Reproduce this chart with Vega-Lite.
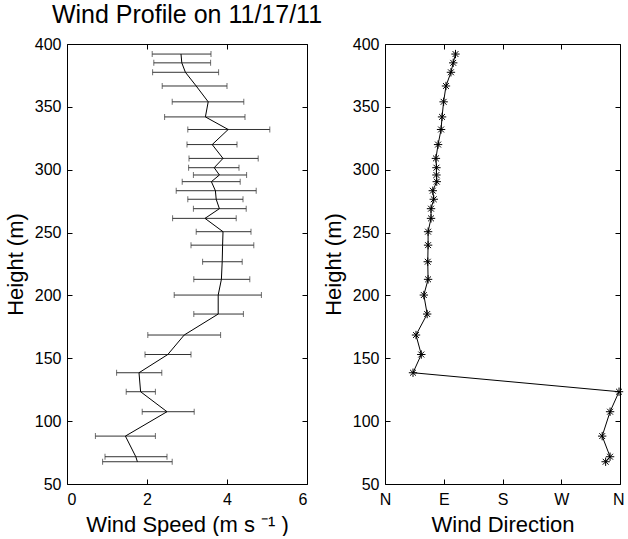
{
  "$schema": "https://vega.github.io/schema/vega-lite/v6.json",
  "background": "white",
  "padding": {"left": 3, "top": 2, "right": 0, "bottom": 0},
  "bounds": "flush",
  "spacing": 78,
  "config": {
    "font": "Liberation Sans",
    "view": {"stroke": "black", "strokeWidth": 1},
    "axis": {
      "grid": false,
      "domain": false,
      "ticks": true,
      "tickColor": "black",
      "tickSize": -5,
      "labelColor": "black",
      "labelFontSize": 16,
      "titleColor": "black",
      "titleFontSize": 22,
      "titleFontWeight": "normal"
    },
    "axisLeft": {"labelPadding": 11, "titlePadding": 7},
    "axisRight": {"labelPadding": 11},
    "axisBottom": {"labelPadding": 12, "titlePadding": 7},
    "axisTop": {"labelPadding": 12},
    "title": {"color": "black", "fontWeight": "normal", "fontSize": 25}
  },
  "datasets": {
    "w": [
      {"h": 392, "speed": 2.85, "lo": 2.13, "hi": 3.6, "dir": 108},
      {"h": 385, "speed": 2.87, "lo": 2.17, "hi": 3.59, "dir": 104.5},
      {"h": 377.5, "speed": 2.96, "lo": 2.14, "hi": 3.79, "dir": 101},
      {"h": 366.6, "speed": 3.23, "lo": 2.38, "hi": 4.0, "dir": 93.4},
      {"h": 354, "speed": 3.53, "lo": 2.63, "hi": 4.42, "dir": 89.8},
      {"h": 342, "speed": 3.46, "lo": 2.44, "hi": 4.45, "dir": 87.4},
      {"h": 332, "speed": 4.03, "lo": 3.02, "hi": 5.07, "dir": 85.9},
      {"h": 320, "speed": 3.63, "lo": 3.0, "hi": 4.25, "dir": 81.3},
      {"h": 309, "speed": 3.9, "lo": 3.05, "hi": 4.78, "dir": 78},
      {"h": 301.6, "speed": 3.68, "lo": 3.04, "hi": 4.3, "dir": 78.8},
      {"h": 295.8, "speed": 3.81, "lo": 3.16, "hi": 4.49, "dir": 78.8},
      {"h": 290.5, "speed": 3.61, "lo": 2.88, "hi": 4.33, "dir": 79.3},
      {"h": 283.3, "speed": 3.71, "lo": 2.73, "hi": 4.73, "dir": 73.2},
      {"h": 276.5, "speed": 3.73, "lo": 3.02, "hi": 4.4, "dir": 74.7},
      {"h": 269, "speed": 3.81, "lo": 3.16, "hi": 4.48, "dir": 70.5},
      {"h": 261.3, "speed": 3.45, "lo": 2.64, "hi": 4.23, "dir": 70.5},
      {"h": 250.7, "speed": 3.9, "lo": 3.23, "hi": 4.6, "dir": 66},
      {"h": 240, "speed": 3.89, "lo": 3.1, "hi": 4.67, "dir": 66},
      {"h": 226.8, "speed": 3.88, "lo": 3.39, "hi": 4.38, "dir": 65.5},
      {"h": 212.8, "speed": 3.86, "lo": 3.17, "hi": 4.57, "dir": 66},
      {"h": 200.3, "speed": 3.78, "lo": 2.68, "hi": 4.86, "dir": 59.5},
      {"h": 185.2, "speed": 3.78, "lo": 3.17, "hi": 4.41, "dir": 64.6},
      {"h": 168.5, "speed": 2.93, "lo": 2.02, "hi": 3.84, "dir": 47.5},
      {"h": 153, "speed": 2.52, "lo": 1.95, "hi": 3.1, "dir": 55.6},
      {"h": 138.5, "speed": 1.8, "lo": 1.24, "hi": 2.37, "dir": 42.9},
      {"h": 123.4, "speed": 1.84, "lo": 1.48, "hi": 2.21, "dir": 358.5},
      {"h": 107.5, "speed": 2.5, "lo": 1.88, "hi": 3.18, "dir": 344.8},
      {"h": 88.1, "speed": 1.46, "lo": 0.71, "hi": 2.21, "dir": 332.7},
      {"h": 71.7, "speed": 1.72, "lo": 0.95, "hi": 2.5, "dir": 344.8},
      {"h": 67.7, "speed": 1.76, "lo": 0.89, "hi": 2.63, "dir": 338}
    ]
  },
  "hconcat": [
    {
      "width": 240,
      "height": 440,
      "title": {"text": "Wind Profile on 11/17/11", "anchor": "middle", "offset": 8},
      "data": {"name": "w"},
      "layer": [
        {
          "mark": {"type": "rule", "color": "#333", "strokeWidth": 1},
          "encoding": {
            "y": {"field": "h", "type": "quantitative", "scale": {"domain": [50, 400], "nice": false, "zero": false},
                  "axis": {"orient": "left", "values": [50, 100, 150, 200, 250, 300, 350, 400], "title": "Height (m)"}},
            "x": {"field": "lo", "type": "quantitative", "scale": {"domain": [0, 6], "nice": false},
                  "axis": {"orient": "bottom", "values": [0, 2, 4, 6], "title": "Wind Speed (m s ⁻¹ )"}},
            "x2": {"field": "hi"}
          }
        },
        {
          "mark": {"type": "tick", "orient": "vertical", "size": 6, "thickness": 1, "color": "#333"},
          "encoding": {
            "y": {"field": "h", "type": "quantitative", "axis": null},
            "x": {"field": "lo", "type": "quantitative", "axis": null}
          }
        },
        {
          "mark": {"type": "tick", "orient": "vertical", "size": 6, "thickness": 1, "color": "#333"},
          "encoding": {
            "y": {"field": "h", "type": "quantitative", "axis": null},
            "x": {"field": "hi", "type": "quantitative", "axis": null}
          }
        },
        {
          "mark": {"type": "line", "color": "black", "strokeWidth": 1},
          "encoding": {
            "y": {"field": "h", "type": "quantitative", "axis": null},
            "x": {"field": "speed", "type": "quantitative", "axis": null},
            "order": {"field": "h", "type": "quantitative"}
          }
        },
        {
          "mark": {"type": "point", "opacity": 0},
          "encoding": {
            "y": {"field": "h", "type": "quantitative",
                  "axis": {"orient": "right", "values": [50, 100, 150, 200, 250, 300, 350, 400], "labels": false, "title": null}},
            "x": {"field": "speed", "type": "quantitative",
                  "axis": {"orient": "top", "values": [0, 2, 4, 6], "labels": false, "title": null}}
          }
        }
      ],
      "resolve": {"axis": {"x": "independent", "y": "independent"}}
    },
    {
      "width": 235,
      "height": 440,
      "data": {"name": "w"},
      "layer": [
        {
          "mark": {"type": "line", "color": "black", "strokeWidth": 1},
          "encoding": {
            "y": {"field": "h", "type": "quantitative", "scale": {"domain": [50, 400], "nice": false, "zero": false},
                  "axis": {"orient": "left", "values": [50, 100, 150, 200, 250, 300, 350, 400], "title": "Height (m)"}},
            "x": {"field": "dir", "type": "quantitative", "scale": {"domain": [0, 360], "nice": false},
                  "axis": {"orient": "bottom", "values": [0, 90, 180, 270, 360],
                           "labelExpr": "['N','E','S','W','N'][round(datum.value/90)]",
                           "labelAlign": {"condition": {"test": "datum.value >= 360", "value": "right"}, "value": "center"},
                           "labelOffset": {"condition": {"test": "datum.value >= 360", "value": 4}, "value": 0},
                           "title": "Wind Direction"}},
            "order": {"field": "h", "type": "quantitative"}
          }
        },
        {
          "mark": {"type": "point", "shape": "M0,-1L0,1M-1,0L1,0M-0.7,-0.7L0.7,0.7M-0.7,0.7L0.7,-0.7", "filled": false, "stroke": "black", "strokeWidth": 1, "size": 70, "opacity": 1},
          "encoding": {
            "y": {"field": "h", "type": "quantitative",
                  "axis": {"orient": "right", "values": [50, 100, 150, 200, 250, 300, 350, 400], "labels": false, "title": null}},
            "x": {"field": "dir", "type": "quantitative",
                  "axis": {"orient": "top", "values": [0, 90, 180, 270, 360], "labels": false, "title": null}}
          }
        }
      ],
      "resolve": {"axis": {"x": "independent", "y": "independent"}}
    }
  ]
}
